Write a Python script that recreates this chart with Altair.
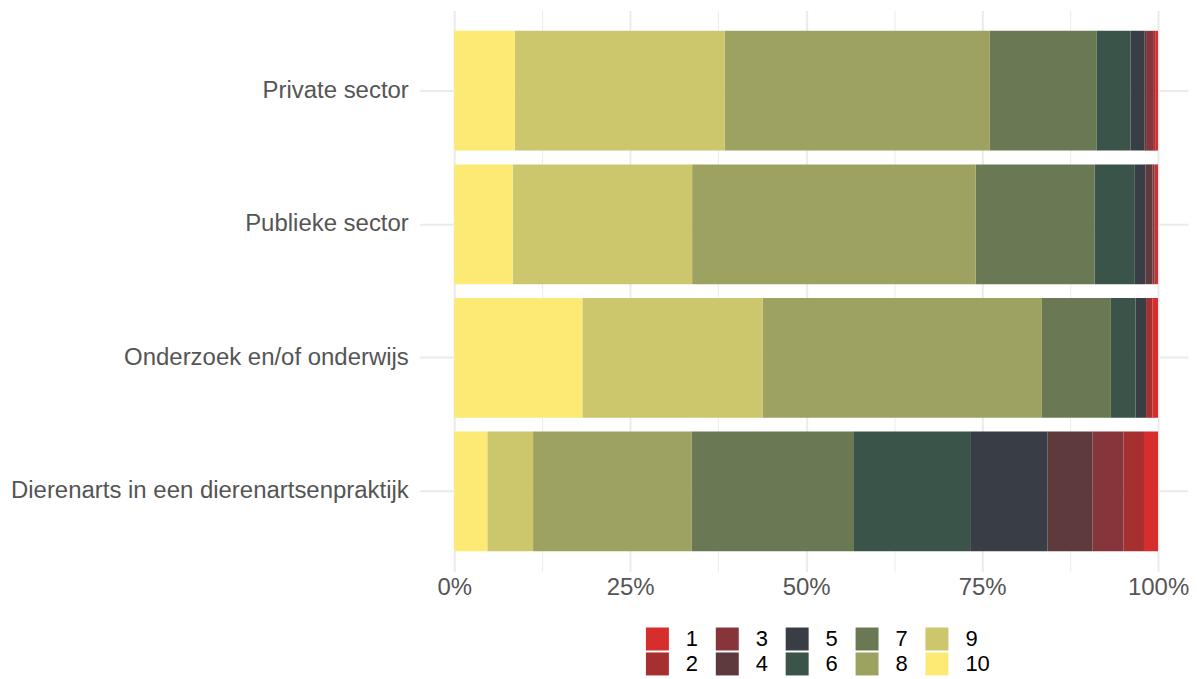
import altair as alt
import pandas as pd

categories = ["Private sector", "Publieke sector", "Onderzoek en/of onderwijs",
              "Dierenarts in een dierenartsenpraktijk"]
levels = ["1", "2", "3", "4", "5", "6", "7", "8", "9", "10"]
# percentages per score level 1..10
private_sector = [0.4, 0.3, 1.0, 0.2, 2.0, 4.8, 15.2, 37.7, 29.8, 8.6]
publieke_sector = [0.3, 0.2, 0.3, 1.0, 1.5, 5.7, 16.9, 40.3, 25.5, 8.3]
onderzoek = [0.8, 0.9, 0.0, 0.0, 1.5, 3.5, 9.8, 39.7, 25.6, 18.2]
dierenarts = [2.0, 2.9, 4.4, 6.4, 11.0, 16.5, 23.1, 22.5, 6.5, 4.7]
colors = ["#D62D2D", "#A62F2F", "#86353A", "#5E3A3D", "#393D46",
          "#3B5449", "#6A7854", "#9EA261", "#CCC66D", "#FCEA74"]

series = [private_sector, publieke_sector, onderzoek, dierenarts]
rows = []
for cat, vals in zip(categories, series):
    for lev, v in zip(levels, vals):
        rows.append({"cat": cat, "level": lev, "value": v / 100.0,
                     "ord": 10 - int(lev)})
df = pd.DataFrame(rows)

grid_vals = [i * 0.125 for i in range(9)]

chart = alt.Chart(df).mark_bar(size=120).encode(
    y=alt.Y("cat:N", sort=categories, title=None,
            scale=alt.Scale(paddingInner=0.1, paddingOuter=0.15),
            axis=alt.Axis(labelFontSize=24, labelColor="#555555",
                          labelFont="Liberation Sans", labelPadding=11,
                          ticks=False, domain=False, grid=True,
                          gridColor="#EBEBEB", gridWidth=2,
                          bandPosition=0.5, labelLimit=600)),
    x=alt.X("value:Q", stack=True, title=None,
            scale=alt.Scale(domain=[-0.04965, 1.04255], nice=False, zero=False,
                            padding=0),
            axis=alt.Axis(values=grid_vals, labelFontSize=24,
                          labelColor="#555555", labelFont="Liberation Sans",
                          labelExpr="(datum.value*100) % 25 == 0 ? format(datum.value, '.0%') : ''",
                          ticks=False, domain=False, grid=True,
                          gridColor="#EBEBEB",
                          gridWidth={"condition": {"test": "(datum.value*100) % 25 == 0", "value": 2}, "value": 1},
                          labelPadding=4, labelFlush=False)),
    color=alt.Color("level:N",
                    scale=alt.Scale(domain=levels, range=colors),
                    legend=alt.Legend(title=None, orient="none", legendX=227,
                                      legendY=618, columns=5,
                                      symbolType="square", symbolSize=529,
                                      symbolStrokeWidth=0, symbolOpacity=1,
                                      labelFontSize=22, labelColor="#000000",
                                      labelFont="Liberation Sans",
                                      labelOffset=17, columnPadding=17,
                                      rowPadding=2, padding=0)),
    order=alt.Order("ord:Q", sort="ascending"),
).properties(
    width=770, height=562,
    padding={"left": 2, "top": 2, "right": 0, "bottom": 0},
).configure_view(stroke=None)

chart.save("out.html", embed_options={"renderer": "svg", "actions": False})
